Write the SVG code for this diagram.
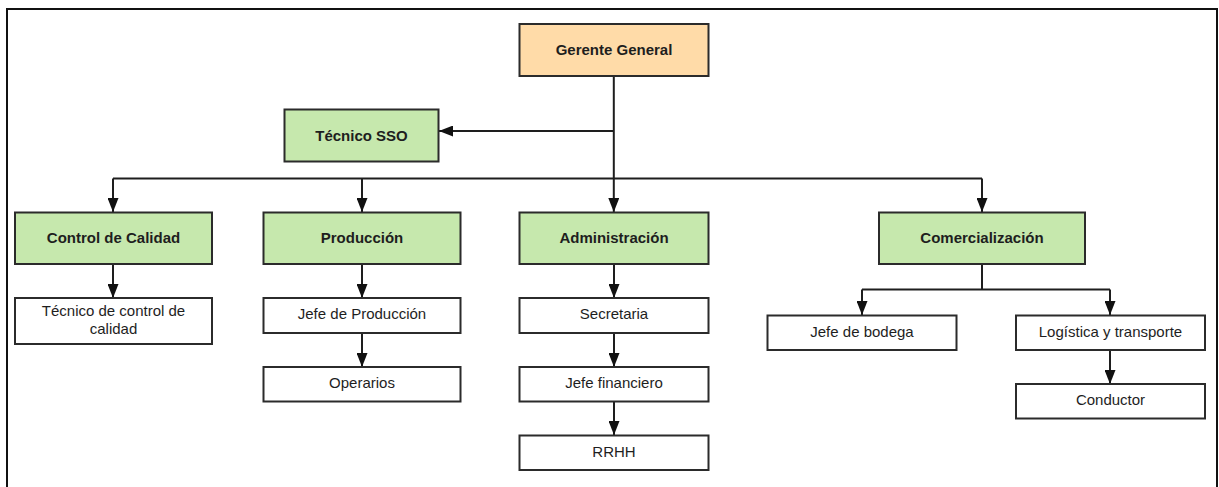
<svg xmlns="http://www.w3.org/2000/svg" width="1219" height="487" viewBox="0 0 1219 487">
<style>
.box{stroke:#2b2b2b;stroke-width:2}
.g{fill:#c6e8ad}
.o{fill:#ffdba8}
.w{fill:#ffffff}
.b{font-family:"Liberation Sans",Arial,sans-serif;font-size:15px;font-weight:bold;fill:#1e1e1e;text-anchor:middle}
.r{font-family:"Liberation Sans",Arial,sans-serif;font-size:15px;fill:#1e1e1e;text-anchor:middle}
.c{fill:none;stroke:#1e1e1e;stroke-width:2}
</style>
<defs>
<marker id="ah" markerUnits="userSpaceOnUse" markerWidth="14" markerHeight="11" refX="14" refY="5.5" orient="auto" viewBox="0 0 14 11">
<path d="M0,0 L14,5.5 L0,11 z" fill="#111"/>
</marker>
</defs>
<rect x="0" y="0" width="1219" height="487" fill="#ffffff"/>
<path d="M7,487 V9 H1217 V487" fill="none" stroke="#111" stroke-width="2"/>

<g id="connectors">
<path class="c" d="M613.8,76 V212" marker-end="url(#ah)"/>
<path class="c" d="M613.8,131 H439" marker-end="url(#ah)"/>
<path class="c" d="M113,178.5 H982"/>
<path class="c" d="M113,178.5 V212" marker-end="url(#ah)"/>
<path class="c" d="M362,178.5 V212" marker-end="url(#ah)"/>
<path class="c" d="M982,178.5 V212" marker-end="url(#ah)"/>
<path class="c" d="M113,264 V298" marker-end="url(#ah)"/>
<path class="c" d="M362,264 V298" marker-end="url(#ah)"/>
<path class="c" d="M362,333 V367" marker-end="url(#ah)"/>
<path class="c" d="M614,264 V298" marker-end="url(#ah)"/>
<path class="c" d="M614,333 V367" marker-end="url(#ah)"/>
<path class="c" d="M614,402 V435" marker-end="url(#ah)"/>
<path class="c" d="M982,264 V289.5"/>
<path class="c" d="M862,289.5 H1110"/>
<path class="c" d="M862,289.5 V315" marker-end="url(#ah)"/>
<path class="c" d="M1110,289.5 V315" marker-end="url(#ah)"/>
<path class="c" d="M1110,350 V384" marker-end="url(#ah)"/>
</g>

<g id="gerente-general"><rect class="box o" x="519.5" y="24" width="189" height="52"/><text class="b" x="614" y="55">Gerente General</text></g>
<g id="tecnico-sso"><rect class="box g" x="284.5" y="109.5" width="154" height="52"/><text class="b" x="361.5" y="140.5">Técnico SSO</text></g>

<g id="control-calidad"><rect class="box g" x="15" y="212.5" width="197" height="51.5"/><text class="b" x="113.5" y="243">Control de Calidad</text></g>
<g id="produccion"><rect class="box g" x="263.5" y="212.5" width="197" height="51.5"/><text class="b" x="362" y="243">Producción</text></g>
<g id="administracion"><rect class="box g" x="519.5" y="212.5" width="189" height="51.5"/><text class="b" x="614" y="243">Administración</text></g>
<g id="comercializacion"><rect class="box g" x="879" y="212.5" width="206" height="51.5"/><text class="b" x="982" y="243">Comercialización</text></g>

<g id="tecnico-control"><rect class="box w" x="15" y="298" width="197" height="46"/><text class="r" x="113.5" y="315.5">Técnico de control de</text><text class="r" x="113.5" y="334">calidad</text></g>
<g id="jefe-produccion"><rect class="box w" x="263.5" y="298" width="197" height="35"/><text class="r" x="362" y="319">Jefe de Producción</text></g>
<g id="operarios"><rect class="box w" x="263.5" y="367" width="197" height="34.5"/><text class="r" x="362" y="388">Operarios</text></g>

<g id="secretaria"><rect class="box w" x="519.5" y="298" width="189" height="35"/><text class="r" x="614" y="319">Secretaria</text></g>
<g id="jefe-financiero"><rect class="box w" x="519.5" y="367" width="189" height="34.5"/><text class="r" x="614" y="388">Jefe financiero</text></g>
<g id="rrhh"><rect class="box w" x="519.5" y="435.5" width="189" height="34.5"/><text class="r" x="614" y="456.5">RRHH</text></g>

<g id="jefe-bodega"><rect class="box w" x="767.5" y="315.5" width="189" height="34.5"/><text class="r" x="862" y="336.5">Jefe de bodega</text></g>
<g id="logistica"><rect class="box w" x="1016" y="315.5" width="189" height="34.5"/><text class="r" x="1110.5" y="336.5">Logística y transporte</text></g>
<g id="conductor"><rect class="box w" x="1016" y="384" width="189" height="34.5"/><text class="r" x="1110.5" y="405">Conductor</text></g>
</svg>
